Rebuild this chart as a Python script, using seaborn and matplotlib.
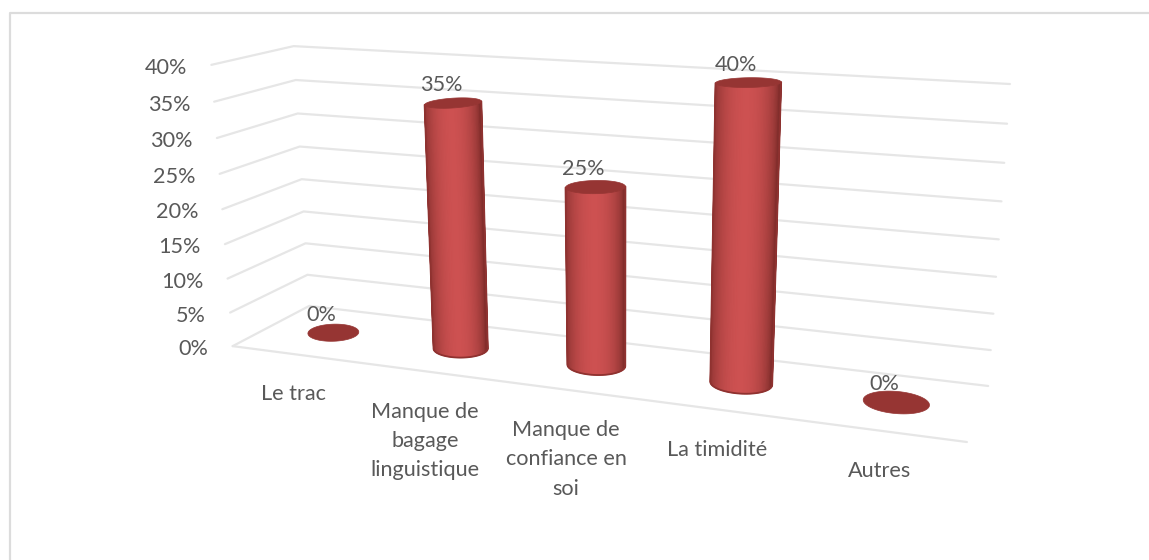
import numpy as np
import pandas as pd
import matplotlib
matplotlib.use('Agg')
import matplotlib.pyplot as plt
import seaborn as sns
from matplotlib.patches import Polygon
from matplotlib.colors import LinearSegmentedColormap

categories = ['Le trac', 'Manque de\nbagage\nlinguistique', 'Manque de\nconfiance en\nsoi', 'La timidité', 'Autres']
values = [0, 35, 25, 40, 0]
ticks = [0, 5, 10, 15, 20, 25, 30, 35, 40]
ymax = 40

sns.set_theme(style='white')
plt.rcParams['font.family'] = ['Lato', 'DejaVu Sans']
text_col = '#595959'
grid_col = '#e6e6e6'
fs = 15.6

# box corners in the picture: (along, depth, height) -> pixel
box = [((0, 0, 0), (232, 346)), ((1, 0, 0), (967, 442)), ((0, 1, 0), (310, 306)), ((1, 1, 0), (988, 386)),
       ((0, 0, 1), (212, 65)), ((0, 1, 1), (293, 46)), ((1, 1, 1), (1010, 84))]
rows = []
for (a, b, c), (u, v) in box:
    rows.append([a, b, c, 1, 0, 0, 0, 0, -u*a, -u*b, -u*c, -u])
    rows.append([0, 0, 0, 0, a, b, c, 1, -v*a, -v*b, -v*c, -v])
cam = np.linalg.svd(np.array(rows, dtype=float))[2][-1].reshape(3, 4)


def project(t, d, val):
    t, d, val = np.broadcast_arrays(np.asarray(t, float), np.asarray(d, float), np.asarray(val, float) / ymax)
    p = cam @ np.stack([t, d, val, np.ones_like(t)])
    return p[0] / p[2], p[1] / p[2]


fig, ax = plt.subplots(figsize=(11.49, 5.6), dpi=100)
ax.set_position([0, 0, 1, 1])

# chart frame is only visible on the top and left in the original
ax.plot([10, 10, 1149], [560, 13, 13], color='#dcdcdc', lw=1.6)

# gridlines on the two walls + front edge of floor
grid = []
for v in ticks:
    xs, ys = project([0, 0, 1], [0, 1, 1], [v, v, v])
    grid += [{'x': x, 'y': y, 'line': v} for x, y in zip(xs, ys)]
xs, ys = project([0, 1], [0, 0], [0, 0])
grid += [{'x': x, 'y': y, 'line': -1} for x, y in zip(xs, ys)]
sns.lineplot(data=pd.DataFrame(grid), x='x', y='y', units='line', estimator=None, sort=False,
             color=grid_col, lw=1.6, ax=ax, legend=False)

shade = LinearSegmentedColormap.from_list('cyl', ['#822e2c', '#cd5151'])
cap = '#963533'
rt, rd = 0.041, 0.21


def circle(t, val, th):
    # screen ellipse for a cylinder end; tilt shrinks toward the left like in the original
    cx, cy = project(t, 0.5, val)
    ax1, ay1 = project(t + rt, 0.5, val)
    bx1, by1 = project(t, 0.5 + rd, val)
    a = ax1 - cx
    tilt = (ay1 - cy) / a - 0.26 * (bx1 - cx) / a
    return cx + a * np.cos(th), cy + tilt * a * np.cos(th) + (by1 - cy) * np.sin(th)


n = len(categories)
for i, (lab, val) in enumerate(zip(categories, values)):
    t = (i + 0.5) / n
    if val > 0:
        th = np.linspace(np.pi, 2 * np.pi, 61)
        bx, by = circle(t, 0, th)
        tx, ty = circle(t, val, th)
        w = np.clip(1 - (np.cos(th) + 0.05) ** 2, 0, 1) ** 0.7
        ax.pcolormesh(np.vstack([bx, tx]), np.vstack([by, ty]), np.vstack([w, w]), cmap=shade, vmin=0, vmax=1,
                      shading='gouraud', zorder=3)
        # covers the stair steps of the mesh on the sides
        ax.plot(np.r_[tx[0], bx, tx[-1]], np.r_[ty[0], by, ty[-1]], color='#8f3230', lw=1.3, zorder=3)
    th = np.linspace(0, 2 * np.pi, 80)
    cx, cy = circle(t, val, th)
    ax.add_patch(Polygon(np.column_stack([cx, cy]), fc=cap, ec=cap, lw=0.5, zorder=4))
    # data label above the cap
    px, py = project(t, 0.5, val)
    ax.annotate(f'{val}%', (px, py), xytext=(-12, 18), textcoords='offset pixels', ha='center', va='center',
                color=text_col, fontsize=fs, zorder=5)
    # category label under the front edge
    px, py = project(t, 0, 0)
    ax.annotate(lab, (px, py), xytext=(-2, -30), textcoords='offset pixels', ha='center', va='top',
                color=text_col, fontsize=fs, linespacing=1.58)

for v in ticks:
    px, py = project(0, 0, v)
    ax.annotate(f'{v}%', (px, py), xytext=(-24, -3), textcoords='offset pixels', ha='right', va='center',
                color=text_col, fontsize=fs)

ax.set_xlim(0, 1149)
ax.set_ylim(560, 0)
ax.axis('off')

fig.savefig('out.png', dpi=100)
